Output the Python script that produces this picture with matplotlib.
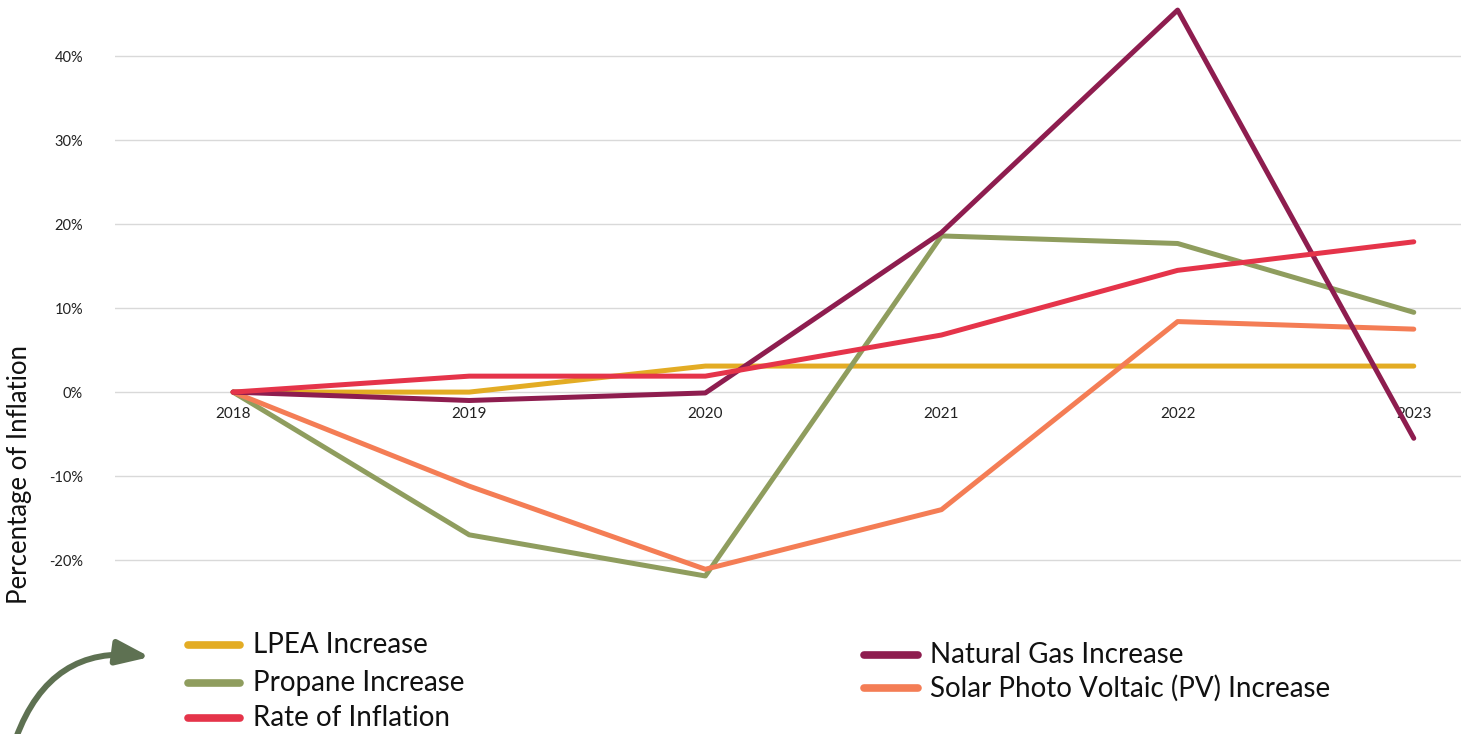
import numpy as np
import matplotlib.pyplot as plt
from matplotlib.patches import FancyArrowPatch
from matplotlib.lines import Line2D

# yearly change in percent for each energy source
years = ["2018", "2019", "2020", "2021", "2022", "2023"]
lpea = [0.0, 0.0, 3.1, 3.1, 3.1, 3.1]
propane = [0.0, -17.0, -21.9, 18.6, 17.7, 9.5]
inflation = [0.0, 1.9, 1.9, 6.8, 14.5, 17.9]
natural_gas = [0.0, -1.0, -0.1, 19.0, 45.5, -5.5]
solar = [0.0, -11.2, -21.1, -14.0, 8.4, 7.5]

labels_left = ["LPEA Increase", "Propane Increase", "Rate of Inflation"]
labels_right = ["Natural Gas Increase", "Solar Photo Voltaic (PV) Increase"]

colors = {
    "lpea": "#E3AC24",
    "propane": "#8F9D5E",
    "inflation": "#E5344A",
    "gas": "#8E1D4F",
    "solar": "#F47D55",
}

plt.rcParams['font.family'] = ['Lato', 'DejaVu Sans']

W, H = 1461, 734
fig = plt.figure(figsize=(W / 100, H / 100), dpi=100)

# plot area in pixels: x from 115 to right edge, y from top down to 602
ax = fig.add_axes([115 / W, (H - 602) / H, (W - 115) / W, 602 / H])
x = np.arange(len(years))
lw = 3.6
ax.plot(x, lpea, color=colors["lpea"], lw=lw, solid_capstyle='round', zorder=3)
ax.plot(x, propane, color=colors["propane"], lw=lw, solid_capstyle='round', zorder=3)
ax.plot(x, solar, color=colors["solar"], lw=lw, solid_capstyle='round', zorder=3)
ax.plot(x, natural_gas, color=colors["gas"], lw=lw, solid_capstyle='round', zorder=4)
ax.plot(x, inflation, color=colors["inflation"], lw=lw, solid_capstyle='round', zorder=5)

ax.set_xlim(-0.5, 5.2)
ax.set_ylim(-25, 46.7)
yt = [-20, -10, 0, 10, 20, 30, 40]
ax.set_yticks(yt)
ax.set_yticklabels([f"{v}%" for v in yt])
ax.yaxis.grid(True, color="#D9D9D9", lw=1)
ax.set_axisbelow(True)
ax.tick_params(axis='y', length=0, pad=23, labelsize=10.5, colors="#222222")

# category labels sit just below the zero line
ax.spines['bottom'].set_position(('data', 0))
ax.set_xticks(x)
ax.set_xticklabels(years)
ax.tick_params(axis='x', length=0, pad=11, labelsize=11, colors="#222222")
for s in ax.spines.values():
    s.set_visible(False)

fig.text(20 / W, (H - 474) / H, "Percentage of Inflation", rotation=90,
         ha='center', va='center', fontsize=18.5, color="#111111")

# legend drawn by hand in two blocks under the plot
def legend_entry(x0, x1, xt, y, color, label):
    yf = (H - y) / H
    fig.add_artist(Line2D([x0 / W, x1 / W], [yf, yf], transform=fig.transFigure,
                          color=color, lw=5.5, solid_capstyle='round'))
    fig.text(xt / W, yf, label, ha='left', va='center', fontsize=20, color="#111111")

for y, key, lab in zip([645, 683, 718], ["lpea", "propane", "inflation"], labels_left):
    legend_entry(188, 240, 253, y, colors[key], lab)
for y, key, lab in zip([655, 688], ["gas", "solar"], labels_right):
    legend_entry(864, 918, 930, y, colors[key], lab)

# curved pointer towards the legend
arrow = FancyArrowPatch((16 / W, -4 / H), (150 / W, (H - 657) / H),
                        transform=fig.transFigure,
                        connectionstyle="arc3,rad=-0.4",
                        arrowstyle="-|>,head_length=20,head_width=7.5",
                        shrinkA=0, shrinkB=0,
                        color="#5E7152", lw=4.3)
fig.add_artist(arrow)

fig.savefig("out.png", dpi=100)
